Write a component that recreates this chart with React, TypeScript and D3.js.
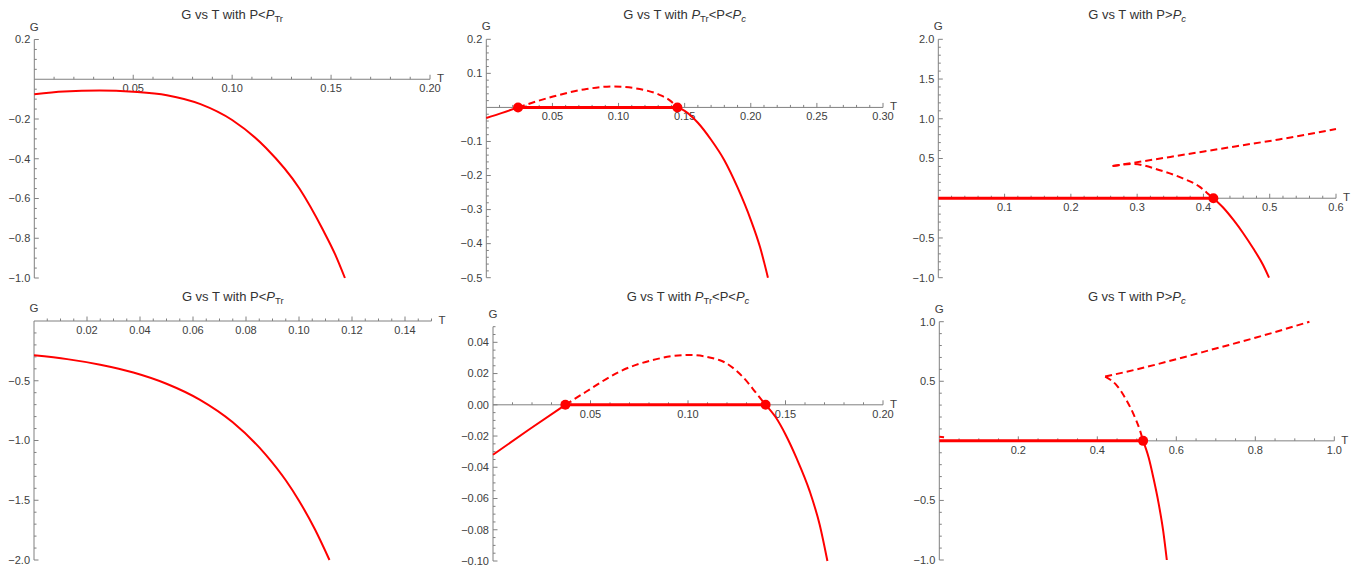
import React from 'react'
import * as d3 from 'd3'

type Pt = [number, number]

// ---- top row (first pressure set) ----
const lowP_top: Pt[] = [
  [0, -0.075], [0.015, -0.062], [0.033, -0.057], [0.05, -0.063], [0.067, -0.08],
  [0.084, -0.125], [0.1, -0.205], [0.117, -0.345], [0.134, -0.55], [0.146, -0.76],
  [0.152, -0.88], [0.157, -1.0]
]

const midP_top_left: Pt[] = [[0, -0.031], [0.012, -0.016], [0.024, 0]]
const midP_top_arc: Pt[] = [
  [0.024, 0], [0.0505, 0.032], [0.0757, 0.054], [0.0958, 0.0617], [0.116, 0.054],
  [0.131, 0.037], [0.139, 0.02], [0.1445, 0]
]
const midP_top_right: Pt[] = [
  [0.1445, 0], [0.15, -0.01], [0.16, -0.045], [0.17, -0.095], [0.18, -0.155],
  [0.19, -0.235], [0.2, -0.33], [0.207, -0.41], [0.213, -0.5]
]
const midP_top_flat: Pt[] = [[0.024, 0], [0.1445, 0]]
const midP_top_dots: Pt[] = [[0.024, 0], [0.1445, 0]]

const highP_top_flat: Pt[] = [[0, 0], [0.415, 0]]
const highP_top_lower: Pt[] = [
  [0.263, 0.407], [0.293, 0.432], [0.333, 0.356], [0.369, 0.25], [0.394, 0.146],
  [0.405, 0.07], [0.415, 0]
]
const highP_top_upper: Pt[] = [
  [0.263, 0.405], [0.35, 0.52], [0.45, 0.655], [0.514, 0.74], [0.6, 0.87]
]
const highP_top_right: Pt[] = [
  [0.415, 0], [0.43, -0.12], [0.445, -0.27], [0.46, -0.44], [0.475, -0.63],
  [0.49, -0.84], [0.499, -1.0]
]
const highP_top_dots: Pt[] = [[0.415, 0]]

// ---- bottom row (second pressure set) ----
const lowP_bot: Pt[] = [
  [0, -0.287], [0.0125, -0.319], [0.025, -0.366], [0.0375, -0.431], [0.05, -0.525],
  [0.0625, -0.658], [0.075, -0.848], [0.0875, -1.12], [0.095, -1.333], [0.1, -1.504],
  [0.106, -1.743], [0.1115, -2.0]
]

const midP_bot_left: Pt[] = [[0, -0.032], [0.0185, -0.0158], [0.0371, 0]]
const midP_bot_arc: Pt[] = [
  [0.0371, 0], [0.0479, 0.0085], [0.065, 0.0213], [0.082, 0.0287], [0.1, 0.0319],
  [0.116, 0.0287], [0.128, 0.018], [0.135, 0.0075], [0.1398, 0]
]
const midP_bot_right: Pt[] = [
  [0.1398, 0], [0.145, -0.008], [0.15, -0.019], [0.1556, -0.034], [0.1624, -0.0553],
  [0.1675, -0.0766], [0.1715, -0.1]
]
const midP_bot_flat: Pt[] = [[0.0371, 0], [0.1398, 0]]
const midP_bot_dots: Pt[] = [[0.0371, 0], [0.1398, 0]]

const highP_bot_flat: Pt[] = [[0, 0], [0.516, 0]]
const highP_bot_stub: Pt[] = [[0, 0.035], [0.012, 0.03]]
const highP_bot_lower: Pt[] = [
  [0.42, 0.54], [0.449, 0.466], [0.474, 0.34], [0.491, 0.229], [0.508, 0.088], [0.516, 0]
]
const highP_bot_upper: Pt[] = [
  [0.42, 0.54], [0.5, 0.6], [0.6, 0.685], [0.7, 0.775], [0.8, 0.865], [0.937, 1.0]
]
const highP_bot_right: Pt[] = [
  [0.516, 0], [0.53, -0.14], [0.542, -0.31], [0.555, -0.52], [0.567, -0.76], [0.576, -1.0]
]
const highP_bot_dots: Pt[] = [[0.516, 0]]

// ---- tick labels ----
const ticksT1 = [0.05, 0.1, 0.15, 0.2]
const ticksG1 = [0.2, -0.2, -0.4, -0.6, -0.8, -1.0]
const ticksT2 = [0.05, 0.1, 0.15, 0.2, 0.25, 0.3]
const ticksG2 = [0.2, 0.1, -0.1, -0.2, -0.3, -0.4, -0.5]
const ticksT3 = [0.1, 0.2, 0.3, 0.4, 0.5, 0.6]
const ticksG3 = [2.0, 1.5, 1.0, 0.5, -0.5, -1.0]
const ticksT4 = [0.02, 0.04, 0.06, 0.08, 0.1, 0.12, 0.14]
const ticksG4 = [-0.5, -1.0, -1.5, -2.0]
const ticksT5 = [0.05, 0.1, 0.15, 0.2]
const ticksG5 = [0.04, 0.02, 0, -0.02, -0.04, -0.06, -0.08, -0.1]
const ticksT6 = [0.2, 0.4, 0.6, 0.8, 1.0]
const ticksG6 = [1.0, 0.5, -0.5, -1.0]

type TitleKind = 'low' | 'mid' | 'high'

interface Panel {
  box: [number, number, number, number] // left, right, top, bottom (px)
  tDomain: [number, number]
  gDomain: [number, number]
  tTicks: number[]
  gTicks: number[]
  tFmt: string
  gFmt: string
  tMinor: number
  gMinor: number
  title: TitleKind
  solid: Pt[][]
  dashed: Pt[][]
  flat?: Pt[]
  dots: Pt[]
}

const panels: Panel[] = [
  {
    box: [34.3, 430, 39.5, 278], tDomain: [0, 0.2], gDomain: [-1, 0.2],
    tTicks: ticksT1, gTicks: ticksG1, tFmt: '.2f', gFmt: '.1f', tMinor: 0.01, gMinor: 0.05,
    title: 'low', solid: [lowP_top], dashed: [], dots: []
  },
  {
    box: [486.3, 883, 39.3, 277.7], tDomain: [0, 0.3], gDomain: [-0.5, 0.2],
    tTicks: ticksT2, gTicks: ticksG2, tFmt: '.2f', gFmt: '.1f', tMinor: 0.01, gMinor: 0.02,
    title: 'mid', solid: [midP_top_left, midP_top_right], dashed: [midP_top_arc],
    flat: midP_top_flat, dots: midP_top_dots
  },
  {
    box: [938.3, 1336, 39.3, 277.7], tDomain: [0, 0.6], gDomain: [-1, 2],
    tTicks: ticksT3, gTicks: ticksG3, tFmt: '.1f', gFmt: '.1f', tMinor: 0.02, gMinor: 0.1,
    title: 'high', solid: [highP_top_right], dashed: [highP_top_lower, highP_top_upper],
    flat: highP_top_flat, dots: highP_top_dots
  },
  {
    box: [34, 431.5, 321, 560], tDomain: [0, 0.15], gDomain: [-2, 0],
    tTicks: ticksT4, gTicks: ticksG4, tFmt: '.2f', gFmt: '.1f', tMinor: 0.005, gMinor: 0.1,
    title: 'low', solid: [lowP_bot], dashed: [], dots: []
  },
  {
    box: [493, 883, 326.7, 561], tDomain: [0, 0.2], gDomain: [-0.1, 0.05],
    tTicks: ticksT5, gTicks: ticksG5, tFmt: '.2f', gFmt: '.2f', tMinor: 0.01, gMinor: 0.005,
    title: 'mid', solid: [midP_bot_left, midP_bot_right], dashed: [midP_bot_arc],
    flat: midP_bot_flat, dots: midP_bot_dots
  },
  {
    box: [939.3, 1334.3, 321.7, 560], tDomain: [0, 1], gDomain: [-1, 1],
    tTicks: ticksT6, gTicks: ticksG6, tFmt: '.1f', gFmt: '.1f', tMinor: 0.05, gMinor: 0.1,
    title: 'high', solid: [highP_bot_right], dashed: [highP_bot_lower, highP_bot_upper, highP_bot_stub],
    flat: highP_bot_flat, dots: highP_bot_dots
  }
]

const RED = '#ff0000'
const AXIS = '#808080'
const LABEL = '#404040'
const FONT = '"Liberation Sans", Arial, sans-serif'

function Title({ kind, x, y }: { kind: TitleKind; x: number; y: number }) {
  const sub = { fontSize: 9.5 }
  const common = { x, y, textAnchor: 'middle' as const, fontSize: 13, fill: '#333', fontFamily: FONT }
  if (kind === 'low') {
    return (
      <text {...common}>
        G vs T with P&lt;<tspan fontStyle="italic">P</tspan>
        <tspan {...sub} dy={3}>Tr</tspan>
      </text>
    )
  }
  if (kind === 'mid') {
    return (
      <text {...common}>
        G vs T with <tspan fontStyle="italic">P</tspan>
        <tspan {...sub} dy={3}>Tr</tspan>
        <tspan dy={-3}>&lt;P&lt;</tspan>
        <tspan fontStyle="italic">P</tspan>
        <tspan {...sub} dy={3} fontStyle="italic">c</tspan>
      </text>
    )
  }
  return (
    <text {...common}>
      G vs T with P&gt;<tspan fontStyle="italic">P</tspan>
      <tspan {...sub} dy={3} fontStyle="italic">c</tspan>
    </text>
  )
}

function PanelView({ p }: { p: Panel }) {
  const [left, right, top, bottom] = p.box
  const x = d3.scaleLinear().domain(p.tDomain).range([left, right])
  const y = d3.scaleLinear().domain(p.gDomain).range([bottom, top])
  const line = d3.line<Pt>().x(d => x(d[0])).y(d => y(d[1])).curve(d3.curveMonotoneX)
  const y0 = y(0)
  const x0 = x(0)
  const tf = d3.format(p.tFmt)
  const gf = d3.format(p.gFmt)
  const eps = 1e-6

  const tMinor = d3.range(p.tDomain[0], p.tDomain[1] + eps, p.tMinor)
    .filter(v => v > eps && !p.tTicks.some(t => Math.abs(t - v) < eps))
  const gMinor = d3.range(Math.ceil(p.gDomain[0] / p.gMinor - eps) * p.gMinor, p.gDomain[1] + eps, p.gMinor)
    .filter(v => Math.abs(v) > eps && !p.gTicks.some(t => Math.abs(t - v) < eps))

  return (
    <g>
      <Title kind={p.title} x={(left + right) / 2} y={top < 100 ? 19 : 301} />

      {/* axes */}
      <line x1={x0} x2={right} y1={y0} y2={y0} stroke={AXIS} strokeWidth={1} />
      <line x1={x0} x2={x0} y1={top} y2={bottom} stroke={AXIS} strokeWidth={1} />

      {tMinor.map((v, i) => (
        <line key={'tm' + i} x1={x(v)} x2={x(v)} y1={y0} y2={y0 - 2.5} stroke={AXIS} />
      ))}
      {p.tTicks.map((v, i) => (
        <g key={'t' + i}>
          <line x1={x(v)} x2={x(v)} y1={y0} y2={y0 - 4.5} stroke={AXIS} />
          <text x={x(v)} y={y0 + 13} textAnchor="middle" fontSize={11} fill={LABEL} fontFamily={FONT}>
            {tf(v)}
          </text>
        </g>
      ))}
      {gMinor.map((v, i) => (
        <line key={'gm' + i} x1={x0} x2={x0 + 2.5} y1={y(v)} y2={y(v)} stroke={AXIS} />
      ))}
      {p.gTicks.map((v, i) => (
        <g key={'g' + i}>
          <line x1={x0} x2={x0 + 4.5} y1={y(v)} y2={y(v)} stroke={AXIS} />
          <text x={x0 - 4} y={y(v)} dy="0.35em" textAnchor="end" fontSize={11} fill={LABEL} fontFamily={FONT}>
            {gf(v)}
          </text>
        </g>
      ))}

      <text x={x0} y={top - 9} textAnchor="middle" fontSize={11.5} fill={LABEL} fontFamily={FONT}>G</text>
      <text x={right + 7} y={y0 + 3} fontSize={11.5} fill={LABEL} fontFamily={FONT}>T</text>

      {/* curves */}
      {p.flat && (
        <path d={line(p.flat) || ''} fill="none" stroke={RED} strokeWidth={3} />
      )}
      {p.dashed.map((c, i) => (
        <path key={'d' + i} d={line(c) || ''} fill="none" stroke={RED} strokeWidth={2}
          strokeDasharray="7,4" />
      ))}
      {p.solid.map((c, i) => (
        <path key={'s' + i} d={line(c) || ''} fill="none" stroke={RED} strokeWidth={2} />
      ))}
      {p.dots.map((d, i) => (
        <circle key={'c' + i} cx={x(d[0])} cy={y(d[1])} r={5} fill={RED} />
      ))}
    </g>
  )
}

export default function App() {
  return (
    <svg width={1359} height={567} style={{ position: 'fixed', left: 0, top: 0, background: '#fff' }}>
      <rect width={1359} height={567} fill="#fff" />
      {panels.map((p, i) => <PanelView key={i} p={p} />)}
    </svg>
  )
}
